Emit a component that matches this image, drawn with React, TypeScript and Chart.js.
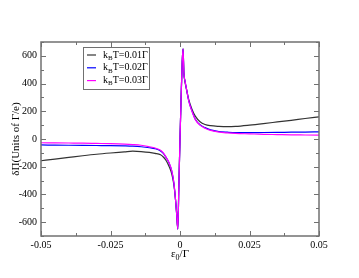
import React, { useEffect, useRef } from "react";
import { Chart, registerables } from "chart.js";
Chart.register(...registerables);

const xVals = [-0.05,-0.045,-0.04,-0.035,-0.03,-0.025,-0.02,-0.017,-0.014,-0.011,-0.009,-0.007,-0.006,-0.005,-0.004,-0.003,-0.0022,-0.0016,-0.0012,-0.0008,-0.0004,0,0.0004,0.0008,0.0011,0.0014,0.0018,0.0024,0.0032,0.0043,0.0055,0.0072,0.009,0.011,0.014,0.017,0.02,0.025,0.03,0.035,0.04,0.045,0.05];
const blackVals = [-157,-145,-133,-121,-110,-101,-93,-88,-91,-97,-104,-114,-130,-155,-195,-250,-330,-440,-540,-650,-330,0,300,560,650,476,412,352,280,215,165,125,105,96,91,89,91,100,111,123,135,148,160];
const blueVals = [-43,-44,-45,-46,-47,-48,-50,-52,-56,-63,-70,-86,-104,-133,-170,-228,-318,-440,-540,-650,-330,0,300,560,650,476,420,354,272,203,143,103,82,66,54,49,46,46,47,48,49,50,52];
const magentaVals = [-27,-28,-29,-30,-32,-34,-37,-40,-45,-56,-65,-82,-101,-132,-168,-226,-316,-440,-540,-650,-330,0,300,560,650,476,420,354,270,200,140,100,78,62,50,44,40,37,34,32,30,29,28];
const seriesTemps = ["0.01", "0.02", "0.03"];
const seriesColors = ["#333333", "#0000ff", "#ff00ff"];
const yTickVals = [-600, -400, -200, 0, 200, 400, 600];
const yMinorVals = [-700, -500, -300, -100, 100, 300, 500, 700];
const xTickVals = [-0.05, -0.025, 0, 0.025, 0.05];
const xTickLabels = ["-0.05", "-0.025", "0", "0.025", "0.05"];
const xMinorVals = [-0.0375, -0.0125, 0.0125, 0.0375];

const FONT = "'Liberation Serif', 'DejaVu Serif', serif";
const FRAME = "#707070";

const decorPlugin = {
  id: "decor",
  afterDraw(chart: any) {
    const { ctx, chartArea: a, scales } = chart;
    const xs = scales.x, ys = scales.y;
    ctx.save();
    ctx.strokeStyle = FRAME;
    ctx.lineWidth = 1.5;
    ctx.strokeRect(a.left, a.top, a.right - a.left, a.bottom - a.top);
    ctx.lineWidth = 1;
    const tick = (x1: number, y1: number, x2: number, y2: number) => {
      ctx.beginPath(); ctx.moveTo(x1, y1); ctx.lineTo(x2, y2); ctx.stroke();
    };
    const MAJ = 5, MIN = 3;
    yTickVals.forEach((v) => { const p = Math.round(ys.getPixelForValue(v)) + 0.5; tick(a.left, p, a.left + MAJ, p); tick(a.right, p, a.right - MAJ, p); });
    yMinorVals.forEach((v) => { const p = Math.round(ys.getPixelForValue(v)) + 0.5; tick(a.left, p, a.left + MIN, p); tick(a.right, p, a.right - MIN, p); });
    xTickVals.forEach((v) => { const p = Math.round(xs.getPixelForValue(v)) + 0.5; tick(p, a.bottom, p, a.bottom - MAJ); tick(p, a.top, p, a.top + MAJ); });
    xMinorVals.forEach((v) => { const p = Math.round(xs.getPixelForValue(v)) + 0.5; tick(p, a.bottom, p, a.bottom - MIN); tick(p, a.top, p, a.top + MIN); });

    ctx.fillStyle = "#000";
    ctx.textBaseline = "alphabetic";
    ctx.textAlign = "left";
    const cx = (a.left + a.right) / 2;
    ctx.font = `11px ${FONT}`;
    const w1 = ctx.measureText("ε").width;
    const w3 = ctx.measureText("/Γ").width;
    ctx.font = `8px ${FONT}`;
    const w2 = ctx.measureText("0").width;
    let tx = cx - (w1 + w2 + w3) / 2;
    const ty = 257;
    ctx.font = `11px ${FONT}`;
    ctx.fillText("ε", tx, ty); tx += w1;
    ctx.font = `8px ${FONT}`;
    ctx.fillText("0", tx, ty + 3); tx += w2;
    ctx.font = `11px ${FONT}`;
    ctx.fillText("/Γ", tx, ty);

    ctx.save();
    ctx.translate(16, (a.top + a.bottom) / 2);
    ctx.rotate(-Math.PI / 2);
    ctx.textAlign = "center";
    ctx.textBaseline = "middle";
    ctx.font = `11px ${FONT}`;
    ctx.fillText("δΠ(Units of Γ/e)", 0, 0);
    ctx.restore();

    const bx = 83.5, by = 47.5, bw = 66, bh = 42;
    ctx.fillStyle = "#fff";
    ctx.fillRect(bx, by, bw, bh);
    ctx.strokeStyle = FRAME;
    ctx.lineWidth = 1;
    ctx.strokeRect(bx, by, bw, bh);
    seriesTemps.forEach((t, i) => {
      const ry = 55 + i * 12.8;
      ctx.strokeStyle = seriesColors[i];
      ctx.lineWidth = 1.2;
      ctx.beginPath(); ctx.moveTo(87, ry); ctx.lineTo(96, ry); ctx.stroke();
      ctx.fillStyle = "#000";
      ctx.textAlign = "left";
      ctx.textBaseline = "middle";
      let lx = 103;
      ctx.font = `10px ${FONT}`;
      ctx.fillText("k", lx, ry); lx += ctx.measureText("k").width;
      ctx.font = `7px ${FONT}`;
      ctx.fillText("B", lx, ry + 3); lx += ctx.measureText("B").width;
      ctx.font = `10px ${FONT}`;
      ctx.fillText(`T=${t}Γ`, lx, ry);
    });
    ctx.restore();
  },
};

export default function App() {
  const ref = useRef<HTMLCanvasElement | null>(null);
  useEffect(() => {
    document.body.style.margin = "0";
    const mk = (vals: number[]) => xVals.map((x, i) => ({ x, y: vals[i] }));
    const allVals = [blackVals, blueVals, magentaVals];
    const chart = new Chart(ref.current as HTMLCanvasElement, {
      type: "line",
      data: {
        datasets: seriesTemps.map((t, i) => ({
          label: `kBT=${t}Γ`,
          data: mk(allVals[i]),
          borderColor: seriesColors[i],
          borderWidth: 1.2,
          pointRadius: 0,
          order: seriesTemps.length - 1 - i,
          cubicInterpolationMode: "monotone" as const,
          fill: false,
        })),
      },
      options: {
        responsive: false,
        animation: false,
        layout: { padding: { left: 0, top: 42, right: 40, bottom: 0 } },
        plugins: { legend: { display: false }, tooltip: { enabled: false } },
        scales: {
          x: {
            type: "linear",
            min: -0.05,
            max: 0.05,
            grid: { display: false, drawTicks: false },
            border: { display: false },
            afterBuildTicks: (s: any) => { s.ticks = xTickVals.map((v) => ({ value: v })); },
            afterFit: (s: any) => { s.height = 42; },
            ticks: {
              autoSkip: false,
              maxRotation: 0,
              padding: 3,
              color: "#000",
              font: { family: FONT, size: 10 },
              callback: (v: any) => { const i = xTickVals.indexOf(Number(v)); return i >= 0 ? xTickLabels[i] : ""; },
            },
          },
          y: {
            type: "linear",
            min: -700,
            max: 700,
            grid: { display: false, drawTicks: false },
            border: { display: false },
            afterBuildTicks: (s: any) => { s.ticks = yTickVals.map((v) => ({ value: v })); },
            afterFit: (s: any) => { s.width = 41; },
            ticks: {
              autoSkip: false,
              padding: 4,
              color: "#000",
              font: { family: FONT, size: 10 },
              callback: (v: any) => String(v),
            },
          },
        },
      },
      plugins: [decorPlugin],
    });
    return () => chart.destroy();
  }, []);
  return <canvas ref={ref} width={359} height={278} style={{ display: "block", width: 359, height: 278 }} />;
}
